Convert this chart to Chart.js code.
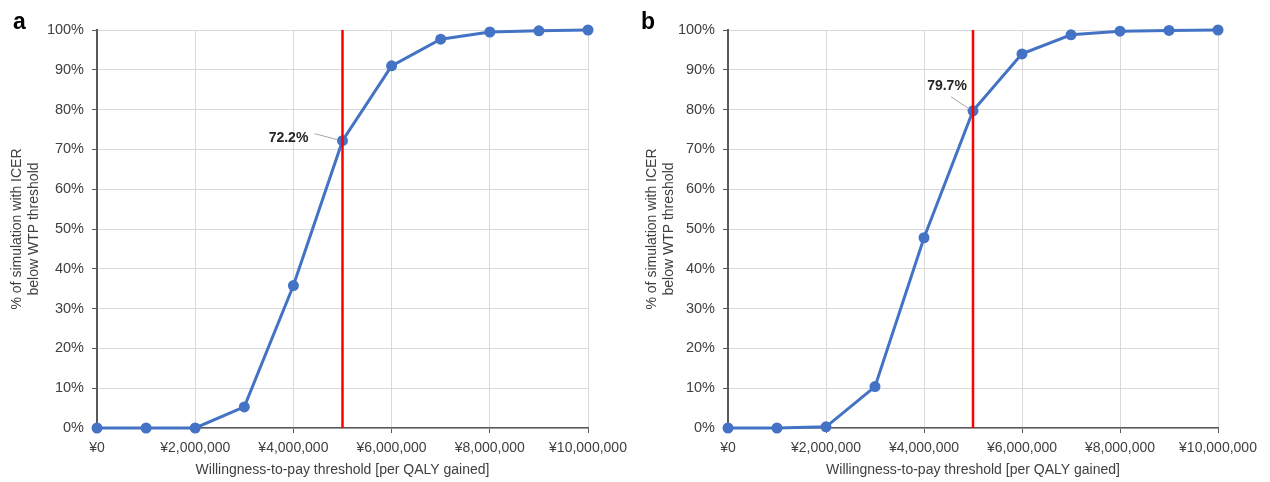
<!DOCTYPE html>
<html>
<head>
<meta charset="utf-8">
<script src="https://cdn.jsdelivr.net/npm/chart.js@4.4.1/dist/chart.umd.min.js"></script>
<style>
  html, body { margin: 0; padding: 0; background: #fff; }
  #wrap { position: relative; width: 1270px; height: 482px; overflow: hidden; font-family: "Liberation Sans", Arial, sans-serif; }
  .cv { position: absolute; top: 0; width: 635px; height: 482px; }
  .panel { position: absolute; top: 8px; font-weight: bold; font-size: 23px; color: #000; }
</style>
</head>
<body>
<div id="wrap">
  <div class="cv" style="left:0"><canvas id="ca" width="635" height="482"></canvas></div>
  <div class="cv" style="left:635px"><canvas id="cb" width="635" height="482"></canvas></div>
  <div class="panel" style="left:13px">a</div>
  <div class="panel" style="left:641px">b</div>
</div>
<script>
// ---- data ----
const wtp = [0, 1000000, 2000000, 3000000, 4000000, 5000000, 6000000, 7000000, 8000000, 9000000, 10000000];
const probA = [0, 0, 0, 5.3, 35.8, 72.2, 91.0, 97.7, 99.5, 99.8, 100];
const probB = [0, 0, 0.3, 10.4, 47.8, 79.7, 94.0, 98.8, 99.7, 99.9, 100];
const threshold = 5000000;
const labelA = "72.2%";
const labelB = "79.7%";
const xTitle = "Willingness-to-pay threshold [per QALY gained]";
const yTitle = ["% of simulation with ICER", "below WTP threshold"];

const FONT = "'Liberation Sans', Arial, sans-serif";
const TXT = "#404040";

function thresholdPlugin(labelText, lblDx, lblDy, lineFrom, lineTo) {
  return {
    id: 'thr',
    afterDatasetsDraw(chart) {
      const {ctx, chartArea, scales} = chart;
      const x = scales.x.getPixelForValue(threshold);
      ctx.save();
      ctx.strokeStyle = '#ff0000';
      ctx.lineWidth = 2.5;
      ctx.beginPath();
      ctx.moveTo(x, chartArea.top);
      ctx.lineTo(x, chartArea.bottom);
      ctx.stroke();
      // annotation
      const idx = wtp.indexOf(threshold);
      const data = chart.data.datasets[0].data;
      const px = scales.x.getPixelForValue(threshold);
      const py = scales.y.getPixelForValue(data[idx].y);
      ctx.strokeStyle = '#a6a6a6';
      ctx.lineWidth = 1;
      ctx.beginPath();
      ctx.moveTo(px + lineFrom[0], py + lineFrom[1]);
      ctx.lineTo(px + lineTo[0], py + lineTo[1]);
      ctx.stroke();
      ctx.fillStyle = '#262626';
      ctx.font = "bold 14px " + FONT;
      ctx.textAlign = 'center';
      ctx.textBaseline = 'middle';
      ctx.fillText(labelText, px + lblDx, py + lblDy);
      ctx.restore();
    }
  };
}

function makeChart(id, values, yWidth, padRight, plugin) {
  const pts = wtp.map((w, i) => ({x: w, y: values[i]}));
  return new Chart(document.getElementById(id), {
    type: 'line',
    data: { datasets: [{
      data: pts,
      borderColor: '#4472C4',
      backgroundColor: '#4472C4',
      borderWidth: 3,
      pointRadius: 5.5,
      pointHoverRadius: 5.5,
      pointBorderWidth: 0,
      tension: 0,
      clip: false
    }]},
    options: {
      responsive: false,
      animation: false,
      events: [],
      layout: { padding: { top: 30, right: padRight, bottom: 0, left: 0 } },
      plugins: { legend: { display: false }, tooltip: { enabled: false } },
      scales: {
        x: {
          type: 'linear', min: 0, max: 10000000,
          ticks: {
            stepSize: 2000000, color: TXT, font: { family: FONT, size: 14 }, padding: 7, maxRotation: 0,
            callback: v => '¥' + Number(v).toLocaleString('en-US')
          },
          grid: { color: '#d9d9d9', lineWidth: 1, tickLength: 5, tickColor: '#595959', drawTicks: true },
          border: { color: '#595959', width: 1.5 },
          title: { display: true, text: xTitle, color: TXT, font: { family: FONT, size: 14 }, padding: { top: 4, bottom: 3 } },
          afterFit(s) { s.height = 54; s.paddingLeft = 0; s.paddingRight = 0; }
        },
        y: {
          min: 0, max: 100,
          ticks: { stepSize: 10, color: TXT, font: { family: FONT, size: 14.5 }, padding: 8, callback: v => v + '%' },
          grid: { color: '#d9d9d9', lineWidth: 1, tickLength: 5, tickColor: '#595959' },
          border: { color: '#595959', width: 2 },
          title: { display: true, text: yTitle, color: TXT, font: { family: FONT, size: 14 }, padding: { top: 9, bottom: 2 } },
          afterFit(s) { s.width = yWidth; s.paddingTop = 0; s.paddingBottom = 0; }
        }
      }
    },
    plugins: [plugin]
  });
}

makeChart('ca', probA, 97, 47, thresholdPlugin(labelA, -54, -3, [-28, -7], [-5, -1]));
makeChart('cb', probB, 93, 52, thresholdPlugin(labelB, -26, -25, [-22, -14], [-4, -2]));
</script>
</body>
</html>
